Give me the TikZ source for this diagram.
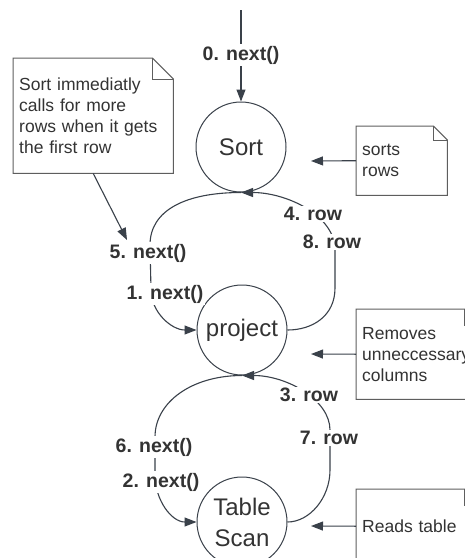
\documentclass[tikz,border=0pt]{standalone}
\usepackage{fontspec}
\setmainfont{Liberation Sans}
\usetikzlibrary{arrows.meta}
\definecolor{lineC}{HTML}{3A414A}
\definecolor{txtC}{HTML}{333333}
\definecolor{noteC}{HTML}{5E5E5E}
\newcommand\drawnoteshape[2]{%
  \draw[noteline] (#1.south west) -- (#1.north west) -- ([xshift=-#2pt]#1.north east)
     -- ([yshift=-#2pt]#1.north east) -- (#1.south east) -- cycle;
  \draw[noteline] ([xshift=-#2pt]#1.north east) -- ([xshift=-#2pt,yshift=-#2pt]#1.north east)
     -- ([yshift=-#2pt]#1.north east);}
\begin{document}
\begin{tikzpicture}[x=1pt,y=-1pt,
  op/.style={circle, draw=lineC, line width=1pt, minimum size=90pt, inner sep=0pt,
    text=txtC, font=\fontsize{24}{31}\selectfont, align=center},
  lbl/.style={fill=white, text=txtC, font=\fontsize{19.5}{22}\selectfont\bfseries, inner sep=1.5pt},
  conn/.style={draw=lineC, line width=1.1pt},
  arr/.style={conn, -{Triangle[length=12pt,width=9pt]}},
  notebox/.style={draw=none, text=txtC, font=\fontsize{17.5}{21}\selectfont, align=left,
    inner xsep=6pt, inner ysep=0pt, anchor=north west},
  noteline/.style={draw=noteC, line width=1pt},
]
\useasboundingbox (0,0) rectangle (465,558);
\fill[white] (0,0) rectangle (465,558);
\clip (0,0) rectangle (465,558);

% operator nodes
\node[op] (S) at (241,147) {Sort};
\node[op] (P) at (242,330) {project};
\node[op] (T) at (242,522) {Table\\Scan};

% notes
\node[notebox, text width=148pt, minimum height=115pt] (n1) at (13,58)
  {Sort immediatly\\calls for more\\rows when it gets\\the first row};
\drawnoteshape{n1}{21}
\node[notebox, text width=79pt, minimum height=69pt] (n2) at (356,126) {sorts\\rows};
\drawnoteshape{n2}{14}
\node[notebox, text width=112pt, minimum height=90pt] (n3) at (356,309)
  {Removes\\unneccessary\\columns};
\drawnoteshape{n3}{16}
\node[notebox, text width=112pt, minimum height=74pt] (n4) at (356,489) {Reads table};
\drawnoteshape{n4}{16}

% top call
\coordinate (top) at (241,10);
\draw[arr] (top) -- (S.north);

% Sort -> project next()
\draw[arr] (S.south) .. controls +(-55,0) and +(0,-35) .. (150,245)
  -- (151,290) .. controls +(0,22) and +(-25,0) .. (P.west);
% project -> Sort rows
\draw[arr] (P.east) .. controls +(25,0) and +(0,28) .. (335,288)
  -- (335,250) .. controls +(0,-35) and +(45,0) .. (S.south);
% project -> Table Scan next()
\draw[arr] (P.south) .. controls +(-50,0) and +(0,-35) .. (155,437)
  -- (155,475) .. controls +(0,25) and +(-25,0) .. (T.west);
% Table Scan -> project rows
\draw[arr] (T.east) .. controls +(22,0) and +(0,28) .. (330,470)
  -- (330,430) .. controls +(0,-30) and +(45,0) .. (P.south);

% note arrows
\coordinate (a1) at (127,240);
\draw[arr] (n1.south) -- (a1);
\coordinate (a2) at (311,161);
\draw[arr] (n2.west) -- (a2);
\coordinate (a3) at (311,354);
\draw[arr] (n3.west) -- (a3);
\coordinate (a4) at (311,526);
\draw[arr] (n4.west) -- (a4);

% labels
\node[lbl] (l0) at (241,55) {0. next()};
\node[lbl] (l5) at (148,253) {5. next()};
\node[lbl] (l1) at (165,294) {1. next()};
\node[lbl] (l4) at (313,214) {4. row};
\node[lbl] (l8) at (332,242) {8. row};
\node[lbl] (l6) at (154,447) {6. next()};
\node[lbl] (l2) at (161,482) {2. next()};
\node[lbl] (l3) at (309,395) {3. row};
\node[lbl] (l7) at (329,438) {7. row};
\end{tikzpicture}
\end{document}
